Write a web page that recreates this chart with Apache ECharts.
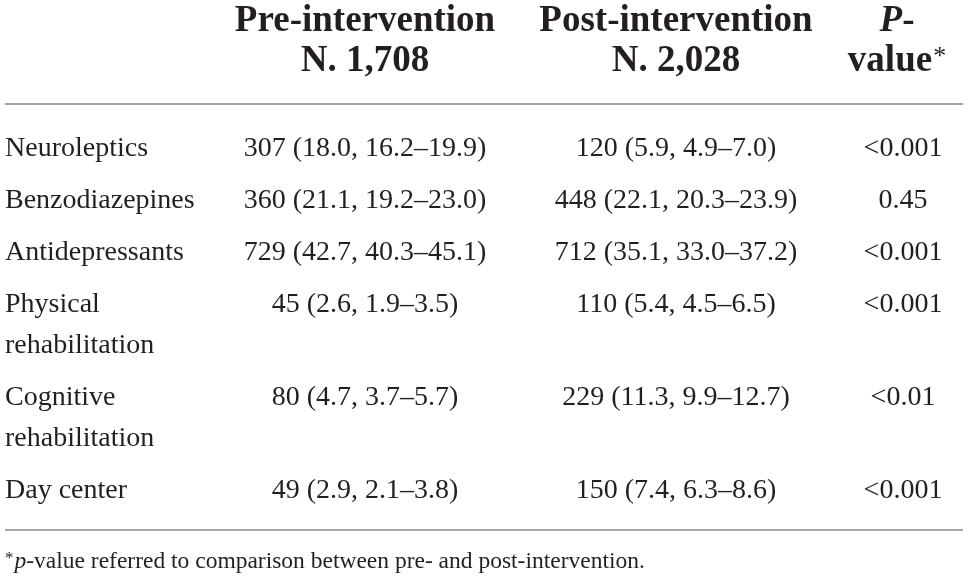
<!DOCTYPE html>
<html>
<head>
<meta charset="utf-8">
<script src="https://cdn.jsdelivr.net/npm/echarts@6/dist/echarts.min.js"></script>
<style>
  html, body { margin: 0; padding: 0; background: #fff; }
  #main { width: 968px; height: 583px; }
</style>
</head>
<body>
<div id="main"></div>
<script>
// table values
const rowLabels = ['Neuroleptics', 'Benzodiazepines', 'Antidepressants', 'Physical\nrehabilitation', 'Cognitive\nrehabilitation', 'Day center']
const preN = [307, 360, 729, 45, 80, 49]
const prePct = [18.0, 21.1, 42.7, 2.6, 4.7, 2.9]
const preLow = [16.2, 19.2, 40.3, 1.9, 3.7, 2.1]
const preHigh = [19.9, 23.0, 45.1, 3.5, 5.7, 3.8]
const postN = [120, 448, 712, 110, 229, 150]
const postPct = [5.9, 22.1, 35.1, 5.4, 11.3, 7.4]
const postLow = [4.9, 20.3, 33.0, 4.5, 9.9, 6.3]
const postHigh = [7.0, 23.9, 37.2, 6.5, 12.7, 8.6]
const pValues = ['<0.001', '0.45', '<0.001', '<0.001', '<0.01', '<0.001']
const groupNames = ['Pre-intervention', 'Post-intervention']
const groupTotals = ['1,708', '2,028']
const footnote = '-value referred to comparison between pre- and post-intervention.'

// layout (axis units = pixels of the 968x583 canvas)
const colX = { label: 5, pre: 365, post: 676, p: 903 }
const lay = { head1: 21, head2: 61, rule1: 104, firstRow: 149, lineH: 41, rowGap: 11, rule2: 530, note: 562, ruleL: 5, ruleR: 963 }
const ink = '#231f20'
const serif = '"Liberation Serif", "DejaVu Serif", serif'

function fmt(n, p, l, h) {
  return n + ' (' + p.toFixed(1) + ', ' + l.toFixed(1) + '\u2013' + h.toFixed(1) + ')'
}

// first-line centre of every row
const rowY = []
let acc = lay.firstRow
rowLabels.forEach(function (lab) {
  rowY.push(acc)
  acc += lay.rowGap + lab.split('\n').length * lay.lineH
})

function txt(pt, s, align, size, extra) {
  return {
    type: 'text', x: pt[0], y: pt[1],
    style: Object.assign({
      text: s, fill: ink, fontFamily: serif, fontSize: size,
      align: align, verticalAlign: 'middle'
    }, extra || {})
  }
}

var chartDom = document.getElementById('main')
var myChart = echarts.init(chartDom, null, { renderer: 'canvas' })

var option = {
  animation: false,
  grid: { left: 0, right: 0, top: 0, bottom: 0 },
  xAxis: { type: 'value', min: 0, max: 968, show: false },
  yAxis: { type: 'value', min: 0, max: 583, inverse: true, show: false },
  series: [
    {
      // header, rules and footnote
      type: 'custom',
      silent: true,
      data: [[0]],
      renderItem: function (params, api) {
        var ch = []
        var bold = { fontWeight: 'bold' }
        ch.push(txt(api.coord([colX.pre, lay.head1]), groupNames[0], 'center', 37, bold))
        ch.push(txt(api.coord([colX.pre, lay.head2]), 'N. ' + groupTotals[0], 'center', 37, bold))
        ch.push(txt(api.coord([colX.post, lay.head1]), groupNames[1], 'center', 37, bold))
        ch.push(txt(api.coord([colX.post, lay.head2]), 'N. ' + groupTotals[1], 'center', 37, bold))
        ch.push(txt(api.coord([colX.p - 6, lay.head1]), '{i|P}-', 'center', 37, {
          fontWeight: 'bold',
          rich: { i: { fontStyle: 'italic', fontWeight: 'bold', fontSize: 37, fontFamily: serif, fill: ink } }
        }))
        ch.push(txt(api.coord([colX.p - 6, lay.head2]), 'value{s|*}', 'center', 37, {
          fontWeight: 'bold',
          rich: { s: { fontWeight: 'normal', fontSize: 26, fontFamily: serif, fill: ink, verticalAlign: 'top', padding: [2, 0, 0, 1] } }
        }))
        ;[lay.rule1, lay.rule2].forEach(function (yy) {
          var a = api.coord([lay.ruleL, yy]), b = api.coord([lay.ruleR, yy])
          ch.push({
            type: 'line',
            shape: { x1: a[0], y1: a[1], x2: b[0], y2: b[1] },
            style: { stroke: '#a6a6a6', lineWidth: 2 }
          })
        })
        ch.push(txt(api.coord([colX.label, lay.note]), '{s|*}{i|p}' + footnote, 'left', 23.5, {
          rich: {
            i: { fontStyle: 'italic', fontSize: 23.5, fontFamily: serif, fill: ink },
            s: { fontSize: 17, fontFamily: serif, fill: ink, verticalAlign: 'top', padding: [0, 1, 0, 0] }
          }
        }))
        return { type: 'group', children: ch }
      }
    },
    {
      // body rows
      type: 'custom',
      silent: true,
      data: rowLabels.map(function (r, i) { return [i] }),
      renderItem: function (params, api) {
        var i = api.value(0)
        var y = rowY[i]
        var ch = []
        rowLabels[i].split('\n').forEach(function (line, k) {
          ch.push(txt(api.coord([colX.label, y + k * lay.lineH]), line, 'left', 28))
        })
        ch.push(txt(api.coord([colX.pre, y]), fmt(preN[i], prePct[i], preLow[i], preHigh[i]), 'center', 28))
        ch.push(txt(api.coord([colX.post, y]), fmt(postN[i], postPct[i], postLow[i], postHigh[i]), 'center', 28))
        ch.push(txt(api.coord([colX.p, y]), pValues[i], 'center', 28))
        return { type: 'group', children: ch }
      }
    }
  ]
}
myChart.setOption(option)
</script>
</body>
</html>
